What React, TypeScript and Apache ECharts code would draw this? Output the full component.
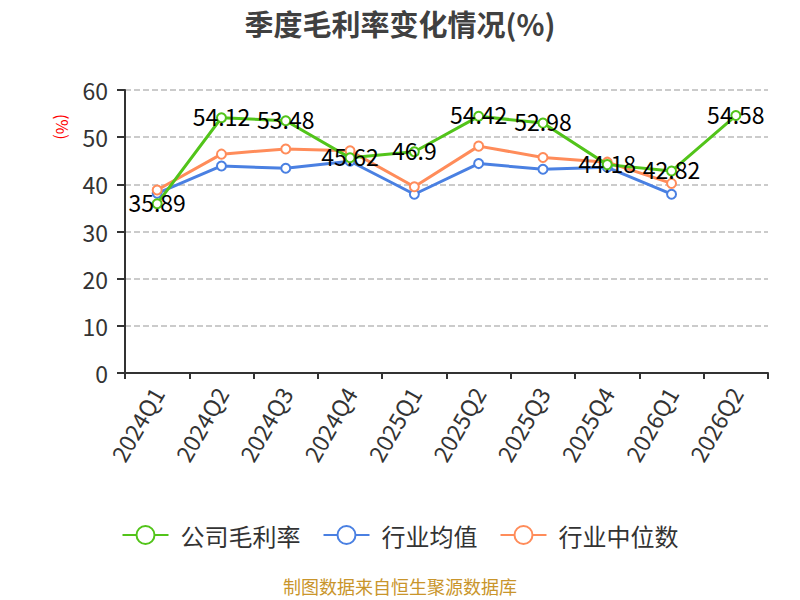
import React, { useEffect, useRef } from "react";
import * as echarts from "echarts";

const categories = ["2024Q1", "2024Q2", "2024Q3", "2024Q4", "2025Q1", "2025Q2", "2025Q3", "2025Q4", "2026Q1", "2026Q2"];
const companyMargin = [35.89, 54.12, 53.48, 45.62, 46.9, 54.42, 52.98, 44.18, 42.82, 54.58];
const industryAvg = [38.1, 43.9, 43.4, 44.9, 37.9, 44.4, 43.2, 43.6, 37.9, null];
const industryMedian = [38.8, 46.4, 47.5, 47.1, 39.5, 48.1, 45.7, 44.7, 40.2, null];
const seriesNames = ["公司毛利率", "行业均值", "行业中位数"];
const colors = ["#52c41a", "#4a80e2", "#ff8c5a"];

export default function App() {
  const ref = useRef<HTMLDivElement>(null);
  useEffect(() => {
    document.body.style.margin = "0";
    if (!ref.current) return;
    const chart = echarts.init(ref.current, undefined, { renderer: "svg" });
    const font = "'Noto Sans CJK SC', 'Noto Sans', sans-serif";
    const mk = (name: string, data: any[], color: string, label: boolean, z: number) => ({
      name,
      type: "line",
      data,
      z,
      symbol: "circle",
      symbolSize: 9,
      showSymbol: true,
      itemStyle: { color: "#fff", borderColor: color, borderWidth: 2 },
      lineStyle: { color, width: 3 },
      label: label
        ? { show: true, position: "inside", offset: [0, -2], color: "#000", fontSize: 23, fontFamily: font }
        : { show: false },
    });
    chart.setOption({
      animation: false,
      color: colors,
      textStyle: { fontFamily: font },
      title: {
        text: "季度毛利率变化情况(%)",
        left: "center",
        top: 7,
        padding: 0,
        textStyle: { fontSize: 29, lineHeight: 32, fontWeight: "bold", color: "#404040", fontFamily: font },
      },
      grid: { left: 125, right: 32, top: 90, bottom: 227 },
      legend: {
        bottom: 48,
        left: "center",
        itemWidth: 46,
        itemHeight: 20,
        itemGap: 22,
        textStyle: { fontSize: 24, color: "#333", fontFamily: font, padding: [0, 0, 0, 7] },
        data: seriesNames.map((n) => ({
          name: n,
          icon: "path://M0,10 L14,10 A8,8 0 1 1 32,10 A8,8 0 1 1 14,10 M32,10 L46,10",
        })),
      },
      xAxis: {
        type: "category",
        data: categories,
        boundaryGap: true,
        axisLine: { lineStyle: { color: "#333", width: 2 } },
        axisTick: { show: true, length: 6, lineStyle: { color: "#333", width: 2 } },
        axisLabel: { rotate: 60, fontSize: 23, color: "#333", margin: 16, fontFamily: font },
      },
      yAxis: {
        type: "value",
        min: 0,
        max: 60,
        interval: 10,
        axisLine: { show: true, lineStyle: { color: "#333", width: 2 } },
        axisTick: { show: true, length: 8, lineStyle: { color: "#333", width: 2 } },
        axisLabel: { fontSize: 23, color: "#333", margin: 17, fontFamily: font },
        splitLine: { lineStyle: { type: "dashed", color: "#bbb", width: 1.5 } },
      },
      graphic: [
        {
          type: "text",
          left: "center",
          top: 577,
          style: { text: "制图数据来自恒生聚源数据库", fill: "#c9952b", fontSize: 18, fontFamily: font },
        },
        {
          type: "text",
          x: 71,
          y: 114,
          rotation: -Math.PI / 2,
          style: { text: "(%)", fill: "#ff0000", fontSize: 16, fontFamily: font },
        },
      ],
      series: [
        mk(seriesNames[0], companyMargin, colors[0], true, 3),
        mk(seriesNames[1], industryAvg, colors[1], false, 2),
        mk(seriesNames[2], industryMedian, colors[2], false, 2),
      ],
    });
    return () => chart.dispose();
  }, []);
  return <div ref={ref} style={{ width: 800, height: 600 }} />;
}
